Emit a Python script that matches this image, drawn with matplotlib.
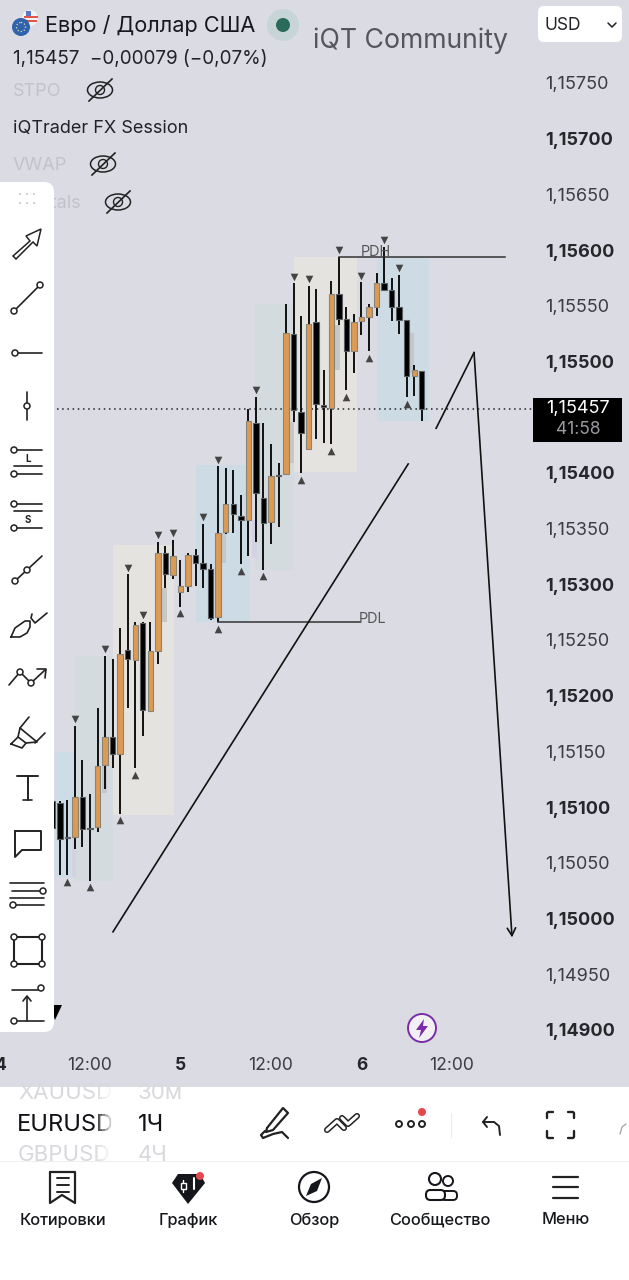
import matplotlib
matplotlib.use('Agg')  # Non-interactive plotting

import matplotlib.pyplot as plt
from matplotlib.patches import Circle, Ellipse, FancyBboxPatch, Polygon, Rectangle

plt.rcParams['font.family'] = ['Inter', 'Roboto', 'DejaVu Sans']

W, H = 629, 1280
BG = '#dbdce3'
ORANGE = '#dd9a52'

# hourly candles, hour 0 is midnight of the 4th
hours = list(range(7, 57))
opens = [1.15105, 1.15104, 1.15073, 1.15073, 1.15109, 1.15081, 1.15082, 1.15138, 1.15163, 1.15148,
         1.15241, 1.15232, 1.15265, 1.15186, 1.15240, 1.15328, 1.15308, 1.15293, 1.15298, 1.15326,
         1.15319, 1.15314, 1.15271, 1.15347, 1.15372, 1.15361, 1.15358, 1.15445, 1.15377, 1.15356,
         1.15398, 1.15399, 1.15525, 1.15455, 1.15421, 1.15535, 1.15461, 1.15458, 1.15561, 1.15538,
         1.15509, 1.15536, 1.15540, 1.15549, 1.15570, 1.15564, 1.15549, 1.15537, 1.15487, 1.15491]
highs = [1.15108, 1.15105, 1.15106, 1.15173, 1.15142, 1.15112, 1.15189, 1.15236, 1.15233, 1.15261,
         1.15309, 1.15266, 1.15266, 1.15266, 1.15338, 1.15334, 1.15340, 1.15322, 1.15328, 1.15332,
         1.15354, 1.15318, 1.15406, 1.15404, 1.15403, 1.15380, 1.15457, 1.15468, 1.15445, 1.15426,
         1.15409, 1.15552, 1.15570, 1.15541, 1.15568, 1.15565, 1.15492, 1.15572, 1.15594, 1.15549,
         1.15543, 1.15571, 1.15552, 1.15579, 1.15603, 1.15575, 1.15578, 1.15537, 1.15497, 1.15491]
lows = [1.15075, 1.15039, 1.15039, 1.15062, 1.15064, 1.15034, 1.15078, 1.15116, 1.15135, 1.15094,
        1.15189, 1.15135, 1.15164, 1.15186, 1.15228, 1.15297, 1.15305, 1.15280, 1.15293, 1.15298,
        1.15297, 1.15268, 1.15266, 1.15345, 1.15346, 1.15318, 1.15325, 1.15338, 1.15313, 1.15336,
        1.15351, 1.15399, 1.15446, 1.15400, 1.15421, 1.15430, 1.15427, 1.15426, 1.15533, 1.15474,
        1.15490, 1.15524, 1.15509, 1.15541, 1.15564, 1.15536, 1.15525, 1.15468, 1.15469, 1.15447]
closes = [1.15081, 1.15071, 1.15072, 1.15109, 1.15080, 1.15080, 1.15137, 1.15163, 1.15148, 1.15237,
          1.15233, 1.15263, 1.15187, 1.15240, 1.15328, 1.15309, 1.15325, 1.15298, 1.15326, 1.15319,
          1.15314, 1.15270, 1.15346, 1.15372, 1.15363, 1.15358, 1.15447, 1.15382, 1.15355, 1.15397,
          1.15397, 1.15526, 1.15456, 1.15436, 1.15534, 1.15462, 1.15459, 1.15561, 1.15538, 1.15509,
          1.15535, 1.15540, 1.15549, 1.15570, 1.15564, 1.15549, 1.15537, 1.15487, 1.15492, 1.15457]

# fractal marks, by hour
swing_highs = [10, 14, 17, 19, 21, 23, 27, 29, 34, 39, 41, 45, 48, 51, 53]
swing_lows = [9, 12, 16, 18, 24, 29, 32, 35, 40, 44, 46, 49, 54]

# session boxes
box_start = [7.35, 9.9, 15.0, 26.0, 33.9, 39.0, 50.0]
box_end = [10.0, 15.0, 23.1, 33.2, 39.0, 47.4, 57.0]
box_top = [1.15149, 1.15236, 1.15335, 1.15407, 1.15552, 1.15594, 1.15594]
box_bottom = [1.15037, 1.15034, 1.15093, 1.15266, 1.15313, 1.15401, 1.15447]
box_colors = ['#cddce6', '#d3dbde', '#e4e3df', '#cddbe5', '#d3dbde', '#e4e3df', '#cddbe5']

# small shaded blocks beside the big candles
block_start = [9.6, 13.55, 21.5, 29.5, 33.5, 38.4, 44.4, 54.3]
block_end = [10.2, 14.2, 22.2, 30.1, 34.1, 39.1, 45.2, 55.0]
block_top = [1.15072, 1.15138, 1.15297, 1.15346, 1.15358, 1.15446, 1.15533, 1.15526]
block_bottom = [1.15037, 1.15113, 1.15266, 1.15319, 1.15324, 1.15409, 1.15492, 1.15490]
block_colors = ['#d3d1e2', '#c4c8cc', '#c6c7c9', '#c4c8cc', '#d3d1e2', '#c4c8cc', '#c6c7c9', '#c4c8cc']

last_price = 1.15457
pdh_hours = [45, 67]
pdh_price = 1.15594
pdl_hours = [29, 47.8]
pdl_price = 1.15266

trend_hours = [15.05, 54.2]
trend_prices = [1.14988, 1.15408]
path_hours = [57.9, 62.93, 67.97]
path_prices = [1.15440, 1.15508, 1.14983]

# 1,15450 is hidden behind the last price tag
price_ticks = [1.14900, 1.14950, 1.15000, 1.15050, 1.15100, 1.15150, 1.15200, 1.15250, 1.15300,
               1.15350, 1.15400, 1.15500, 1.15550, 1.15600, 1.15650, 1.15700, 1.15750]
price_labels = ['1,14900', '1,14950', '1,15000', '1,15050', '1,15100', '1,15150', '1,15200', '1,15250',
                '1,15300', '1,15350', '1,15400', '1,15500', '1,15550', '1,15600', '1,15650',
                '1,15700', '1,15750']
time_ticks = [0, 12, 24, 36, 48, 60]
time_labels = ['4', '12:00', '5', '12:00', '6', '12:00']


def draw_chart(fig):
    ax = fig.add_axes([-20 / W, 1 - 1050 / H, 557 / W, 1050 / H], facecolor=BG)
    ax.set_xlim(-2.586, 71.28)
    ax.set_ylim(1.148819, 1.158245)
    for spine in ax.spines.values():
        spine.set_visible(False)

    for x0, x1, top, bot, col in zip(box_start, box_end, box_top, box_bottom, box_colors):
        ax.add_patch(Rectangle((x0, bot), x1 - x0, top - bot, fc=col, ec='none', zorder=1))
    for x0, x1, top, bot, col in zip(block_start, block_end, block_top, block_bottom, block_colors):
        ax.add_patch(Rectangle((x0, bot), x1 - x0, top - bot, fc=col, ec='none', zorder=1.5))

    ax.axhline(last_price, xmin=77 / 557, color='#222222', lw=1.1, ls=(0, (1, 2.4)), zorder=2)

    ax.vlines(hours, lows, highs, color='black', lw=1.3, zorder=3)
    for h, o, c in zip(hours, opens, closes):
        up = c >= o
        bot = min(o, c)
        ax.bar(h, max(abs(c - o), 0.00001), bottom=bot, width=0.72,
               color=ORANGE if up else 'black', edgecolor='#8b8578' if up else '#5a5d62',
               lw=0.8, zorder=4)

    offset = 0.00006
    ax.scatter(swing_highs, [highs[h - hours[0]] + offset for h in swing_highs],
               marker='v', s=30, color='#444444', lw=0, zorder=5)
    ax.scatter(swing_lows, [lows[h - hours[0]] - offset for h in swing_lows],
               marker='^', s=30, color='#444444', lw=0, zorder=5)

    ax.plot(pdh_hours, [pdh_price, pdh_price], color='#333333', lw=1.1, zorder=5)
    ax.plot(pdl_hours, [pdl_price, pdl_price], color='#333333', lw=1.1, zorder=5)
    ax.text(47.9, pdh_price + 0.00004, 'PDH', fontsize=10.4, color='#555555', va='center', zorder=5)
    ax.text(47.7, pdl_price + 0.00003, 'PDL', fontsize=10.4, color='#555555', va='center', zorder=5)

    ax.plot(trend_hours, trend_prices, color='#111111', lw=1.2, zorder=6)
    ax.plot(path_hours[:2], path_prices[:2], color='#111111', lw=1.2, zorder=6)
    ax.annotate('', xy=(path_hours[2], path_prices[2]), xytext=(path_hours[1], path_prices[1]),
                arrowprops=dict(arrowstyle='->,head_length=0.55,head_width=0.3', color='#111111',
                                lw=1.2, shrinkA=0, shrinkB=0), zorder=6)

    ax.yaxis.tick_right()
    ax.set_yticks(price_ticks)
    ax.set_yticklabels(price_labels, fontsize=13, color='#3c3d42')
    for tick, lab in zip(price_ticks, ax.get_yticklabels()):
        if round(tick * 100000) % 100 == 0:
            lab.set_fontweight('bold')
            lab.set_color('#26272b')
    ax.set_xticks(time_ticks)
    ax.set_xticklabels(time_labels, fontsize=12.6, color='#3c3d42')
    for lab in ax.get_xticklabels():
        if ':' not in lab.get_text():
            lab.set_fontweight('bold')
            lab.set_color('#26272b')
    ax.tick_params(axis='both', length=0)
    ax.tick_params(axis='y', pad=6)
    ax.tick_params(axis='x', pad=5)
    return ax


def eye(ov, x, y):
    ov.add_patch(Ellipse((x, y), 25, 16, fc='none', ec='#222222', lw=1.1))
    ov.add_patch(Circle((x, y), 4.5, fc='none', ec='#222222', lw=1.0))
    ov.plot([x - 11, x + 12], [y + 11, y - 11], color='#222222', lw=1.2)


def ring(ov, x, y, r=3):
    ov.add_patch(Circle((x, y), r, fc='white', ec='#222222', lw=1.1, zorder=12))


def line(ov, xs, ys, lw=1.2, col='#222222', z=11):
    ov.plot(xs, ys, color=col, lw=lw, zorder=z, solid_capstyle='round', solid_joinstyle='round')


def draw_header(ov):
    # flag badge
    ov.add_patch(Circle((30, 18), 8, fc='#f3f3f5', ec='none'))
    ov.add_patch(Rectangle((24, 16), 14, 2, fc='#e2574c', ec='none'))
    ov.add_patch(Rectangle((24, 20), 13, 2, fc='#e2574c', ec='none'))
    ov.add_patch(Rectangle((26, 11), 5, 5, fc='#5a78c8', ec='none'))
    ov.add_patch(Circle((21, 27), 9, fc='#2f63ae', ec='none'))
    ov.add_patch(Circle((21, 27), 4.5, fc='none', ec='#e8e0a0', lw=0.9, ls=':'))
    ov.text(45, 26, 'Евро / Доллар США', fontsize=15.6, color='#17181c', va='center')
    ov.add_patch(Circle((283, 25), 16, fc='#c8d5d7', ec='none'))
    ov.add_patch(Circle((283, 25), 7, fc='#2b6b5c', ec='none'))
    ov.text(313, 41, 'iQT Community', fontsize=19.2, color='#55565c', va='center')
    ov.text(13, 59, '1,15457  −0,00079 (−0,07%)', fontsize=13.6, color='#222327', va='center')
    ov.text(13, 91, 'STPO', fontsize=13, color='#c2c3ca', va='center')
    eye(ov, 100, 90)
    ov.text(13, 128, 'iQTrader FX Session', fontsize=13, color='#222327', va='center')
    ov.text(13, 165, 'VWAP', fontsize=13, color='#c2c3ca', va='center')
    eye(ov, 103, 164)
    ov.text(81, 203, 'Fractals', fontsize=13, color='#c2c3ca', va='center', ha='right')
    eye(ov, 118, 202)

    ov.add_patch(FancyBboxPatch((541, 9), 78, 30, boxstyle='round,pad=3,rounding_size=6', fc='white', ec='none'))
    ov.text(544, 25, 'USD', fontsize=12.5, color='#222327', va='center')
    line(ov, [608, 612, 616], [23, 27, 23], lw=1.1)

    # last price tag
    ov.add_patch(Rectangle((533, 398), 89, 44, fc='black', ec='none'))
    ov.text(578, 409, '1,15457', fontsize=13, color='white', ha='center', va='center')
    ov.text(578, 429, '41:58', fontsize=12.5, color='#9a9aa0', ha='center', va='center')

    ov.add_patch(Circle((422, 1028), 14, fc='#f2f0f5', ec='#7a2da6', lw=1.4))
    ov.add_patch(Polygon([(424, 1019), (416, 1030), (421, 1030), (419, 1038), (428, 1026), (423, 1026)],
                         fc='#7a2da6', ec='none'))


def draw_toolbar(ov):
    ov.add_patch(FancyBboxPatch((-10, 188), 58, 838, boxstyle='round,pad=6,rounding_size=10',
                                fc='white', ec='none', zorder=10))
    ov.add_patch(Polygon([(50, 1005), (62, 1005), (55, 1020)], fc='black', ec='none', zorder=9))
    for dy in (194, 203):
        for dx in (20, 27, 34):
            ov.add_patch(Circle((dx, dy), 1, fc='#c4c5c9', ec='none', zorder=11))

    ov.add_patch(Polygon([(13, 256), (30, 241), (26, 236), (41, 229), (37, 246), (33, 242), (16, 259)],
                         fc='white', ec='#222222', lw=1.1, zorder=11))
    line(ov, [14, 40], [311, 285]); ring(ov, 14, 311); ring(ov, 40, 285)
    line(ov, [15, 42], [353, 353]); ring(ov, 15, 353)
    line(ov, [27, 27], [392, 420]); ring(ov, 27, 406)

    for y in (450, 466, 474):
        line(ov, [14, 42], [y, y])
    ring(ov, 14, 450); ring(ov, 14, 474)
    ov.text(28, 459, 'L', fontsize=7, ha='center', va='center', color='#222222', zorder=12, fontweight='bold')
    for y in (504, 511, 528):
        line(ov, [14, 42], [y, y])
    ring(ov, 14, 504); ring(ov, 14, 528)
    ov.text(28, 520, 'S', fontsize=7, ha='center', va='center', color='#222222', zorder=12, fontweight='bold')

    line(ov, [15, 42], [581, 556]); ring(ov, 15, 581); ring(ov, 27, 570)
    line(ov, [11, 15, 25, 30, 30, 27, 20, 11], [637, 628, 621, 621, 627, 633, 637, 637])
    line(ov, [32, 31, 35, 47], [614, 618, 623, 613])
    line(ov, [9, 20, 31, 45], [685, 672, 683, 670]); ring(ov, 20, 672); ring(ov, 31, 683)
    line(ov, [37, 46, 45], [669, 669, 678])
    line(ov, [11, 18, 26, 22, 11], [744, 737, 743, 748, 744])
    line(ov, [18, 20, 37, 26], [737, 728, 742, 743])
    line(ov, [20, 29], [728, 717]); line(ov, [35, 45], [743, 733])
    line(ov, [17, 38], [776, 776], lw=1.4); line(ov, [27.5, 27.5], [776, 800], lw=1.4); line(ov, [23, 32], [800, 800])
    line(ov, [15, 41, 41, 22, 15, 15], [831, 831, 850, 850, 857, 831], lw=1.4)
    line(ov, [10, 44], [883, 883]); line(ov, [12, 44], [891, 891])
    line(ov, [10, 44], [898, 898]); line(ov, [12, 44], [905, 905])
    ring(ov, 43, 891); ring(ov, 13, 905)
    ov.add_patch(Rectangle((14, 937), 28, 27, fc='none', ec='#222222', lw=1.5, zorder=11))
    for x, y in ((14, 937), (42, 937), (14, 964), (42, 964)):
        ring(ov, x, y)
    line(ov, [12, 38], [990, 990]); line(ov, [16, 44], [1021, 1021])
    ring(ov, 41, 988); ring(ov, 14, 1021)
    line(ov, [27, 27], [1021, 997]); line(ov, [23, 27, 31], [1001, 996, 1001])


def draw_bottom(ov):
    ov.add_patch(Rectangle((0, 1087), W, H - 1087, fc='white', ec='none', zorder=8))
    line(ov, [0, W], [1161, 1161], lw=0.7, col='#efeff2', z=9)

    panel = Rectangle((0, 1087), W, 74, transform=ov.transData)
    for x, lab in ((18, 'XAUUSD'), (138, '30м')):
        ov.text(x, 1093, lab, fontsize=16, color='#d8d8dd', va='center', zorder=9, clip_on=True, clip_path=panel)
    for x, lab in ((18, 'GBPUSD'), (138, '4Ч')):
        ov.text(x, 1155, lab, fontsize=16, color='#d8d8dd', va='center', zorder=9, clip_on=True, clip_path=panel)
    ov.text(17, 1125, 'EURUSD', fontsize=17, color='#111216', va='center', zorder=9)
    ov.text(138, 1125, '1Ч', fontsize=17, color='#111216', va='center', zorder=9)
    # symbol column fades out on its right edge
    for i in range(6):
        ov.add_patch(Rectangle((96 + i * 3, 1087), 3, 74, fc='white', ec='none', alpha=0.15 + i * 0.16, zorder=9.5))

    # pen
    line(ov, [267, 283, 288, 273, 266, 267], [1128, 1108, 1113, 1130, 1132, 1128], lw=1.6, z=9)
    line(ov, [265, 261, 263, 273, 282, 288], [1131, 1135, 1138, 1134, 1132, 1138], lw=1.6, z=9)
    # double chevrons
    line(ov, [327, 337, 344], [1130, 1121, 1128], lw=4.4, z=9)
    line(ov, [327, 337, 344], [1130, 1121, 1128], lw=2.2, col='white', z=9.5)
    line(ov, [342, 348, 357], [1118, 1124, 1116], lw=4.4, z=9)
    line(ov, [342, 348, 357], [1118, 1124, 1116], lw=2.2, col='white', z=9.5)
    for x in (399, 411, 422):
        ov.add_patch(Circle((x, 1124), 3, fc='white', ec='#222222', lw=1.4, zorder=9))
    ov.add_patch(Circle((422, 1112), 4, fc='#e6474f', ec='none', zorder=9))
    line(ov, [451, 451], [1113, 1137], lw=0.6, col='#e6e6ea', z=9)
    # undo
    line(ov, [487, 483, 487], [1117, 1122, 1127], lw=1.4, z=9)
    line(ov, [483, 494, 499, 500], [1122, 1122, 1126, 1135], lw=1.4, z=9)
    # fullscreen brackets
    for sx, x in ((1, 547), (-1, 574)):
        line(ov, [x + sx * 6, x + sx * 1, x, x], [1112, 1112, 1113, 1118], lw=1.7, z=9)
        line(ov, [x + sx * 6, x + sx * 1, x, x], [1138, 1138, 1137, 1131], lw=1.7, z=9)
    line(ov, [620, 622, 626], [1134, 1127, 1124], lw=1, col='#a8a8ad', z=9)

    # nav icons
    line(ov, [50, 75, 75, 62, 50, 50], [1172, 1172, 1203, 1195, 1203, 1172], lw=1.6, z=9)
    for y in (1178, 1185, 1192):
        line(ov, [57, 69], [y, y], lw=1.4, z=9)
    ov.add_patch(Polygon([(172, 1183), (178, 1174), (200, 1174), (205, 1183), (188, 1204)],
                         fc='#15161c', ec='none', zorder=9))
    line(ov, [183, 183], [1180, 1192], lw=1, col='white', z=10)
    ov.add_patch(Rectangle((180.5, 1183), 5, 6, fc='#15161c', ec='white', lw=1, zorder=10))
    line(ov, [194, 194], [1178, 1189], lw=1.5, col='white', z=10)
    ov.add_patch(Circle((200, 1176), 4, fc='#e6474f', ec='none', zorder=11))
    ov.add_patch(Circle((314, 1187), 15, fc='white', ec='#15161c', lw=1.6, zorder=9))
    ov.add_patch(Polygon([(322, 1178), (317, 1191), (306, 1196), (311, 1184)], fc='#15161c', ec='none', zorder=10))
    ov.add_patch(Circle((435, 1179), 6, fc='white', ec='#15161c', lw=1.5, zorder=9))
    ov.add_patch(Circle((448, 1181), 5, fc='white', ec='#15161c', lw=1.4, zorder=9))
    ov.add_patch(FancyBboxPatch((442, 1192), 14, 7, boxstyle='round,pad=1,rounding_size=4', fc='white', ec='#15161c', lw=1.4, zorder=9))
    ov.add_patch(FancyBboxPatch((427, 1191), 17, 8, boxstyle='round,pad=1,rounding_size=4.5', fc='white', ec='#15161c', lw=1.5, zorder=9.5))
    for y in (1177, 1187, 1198):
        line(ov, [553, 578], [y, y], lw=1.6, z=9)

    for x, lab in zip((62.5, 188, 314, 440, 566), ('Котировки', 'График', 'Обзор', 'Сообщество', 'Меню')):
        ov.text(x, 1220, lab, fontsize=11.8, color='#17181c', ha='center', va='center', zorder=9, fontweight='medium')


def main():
    fig = plt.figure(figsize=(W / 100, H / 100), dpi=100, facecolor=BG)
    draw_chart(fig)

    ov = fig.add_axes([0, 0, 1, 1], facecolor='none')
    ov.set_xlim(0, W)
    ov.set_ylim(H, 0)
    ov.axis('off')

    draw_header(ov)
    draw_toolbar(ov)
    draw_bottom(ov)

    fig.savefig('out.png', dpi=100, facecolor=BG)


if __name__ == '__main__':
    main()
